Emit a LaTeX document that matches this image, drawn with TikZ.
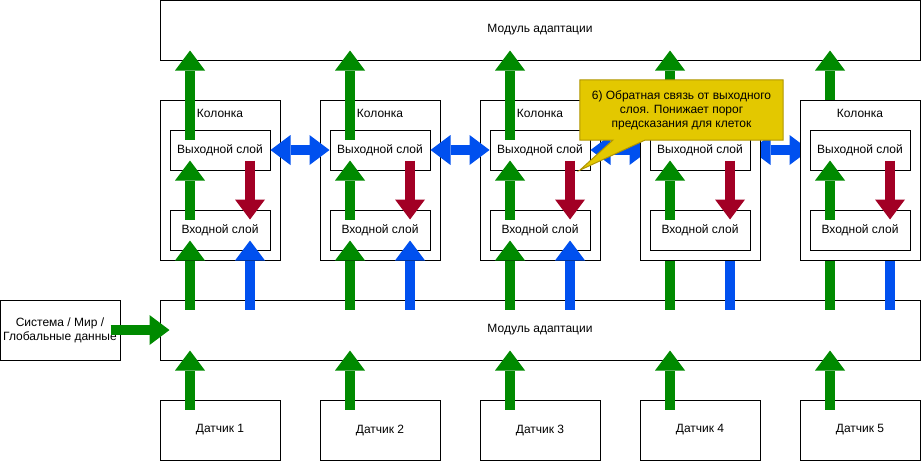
\documentclass[tikz,border=0pt]{standalone}
\usepackage{fontspec}
\setmainfont{Liberation Sans}
\usetikzlibrary{arrows.meta,calc}
\definecolor{gcol}{HTML}{008A00}
\definecolor{bcol}{HTML}{0050EF}
\definecolor{rcol}{HTML}{A20025}
\definecolor{ycol}{HTML}{E3C800}
\definecolor{ydraw}{HTML}{B09500}
\pgfdeclarelayer{bglayer}
\pgfdeclarelayer{frontlayer}
\pgfdeclarelayer{calloutlayer}
\pgfdeclarelayer{toplayer}
\pgfsetlayers{bglayer,main,frontlayer,calloutlayer,toplayer}
\tikzset{
  blk/.tip={Triangle[width=30pt,length=20pt,line width=0pt]},
  box/.style={draw=black, line width=1pt, fill=white, inner sep=0pt, align=center},
  wide/.style={box, minimum width=760pt, minimum height=60pt},
  colbox/.style={box, minimum width=120pt, minimum height=160pt},
  layerbox/.style={box, minimum width=100pt, minimum height=40pt},
  smallbox/.style={box, minimum width=120pt, minimum height=60pt},
  flow/.style={line width=10pt, line cap=butt},
  garrow/.style={flow, draw=gcol, -blk},
  barrow/.style={flow, draw=bcol, -blk},
  rarrow/.style={flow, draw=rcol, -blk},
  bdarrow/.style={flow, draw=bcol, blk-blk},
  coltitle/.style={inner sep=0pt},
}
\begin{document}
\begin{tikzpicture}[x=1pt,y=-1pt,font=\fontsize{12pt}{14pt}\selectfont]
\useasboundingbox (0,0) rectangle (921,461);

\begin{pgfonlayer}{bglayer}
\node[wide] (top) at (540,30) {Модуль адаптации};
\node[wide] (bot) at (540,330) {Модуль адаптации};
\node[smallbox] (sys) at (60,330) {Система / Мир /\\Глобальные данные};
\foreach \i in {1,...,5} {
  \node[smallbox] (s\i) at (60+160*\i,430) {Датчик \i};
}
\end{pgfonlayer}

% columns 1-3 (main layer)
\foreach \i in {1,2,3} {
  \node[colbox] (c\i) at (60+160*\i,180) {};
  \node[coltitle] at ([shift={(0,14)}]c\i.north) {Колонка};
  \node[layerbox] (o\i) at (60+160*\i,150) {Выходной слой};
  \node[layerbox] (n\i) at (60+160*\i,230) {Входной слой};
}

% columns 4-5 (front layer)
\begin{pgfonlayer}{frontlayer}
\foreach \i in {4,5} {
  \node[colbox] (c\i) at (60+160*\i,180) {};
  \node[coltitle] at ([shift={(0,14)}]c\i.north) {Колонка};
  \node[layerbox] (o\i) at (60+160*\i,150) {Выходной слой};
  \node[layerbox] (n\i) at (60+160*\i,230) {Входной слой};
}
\end{pgfonlayer}

% arrows between modules, columns and sensors
\foreach \i in {1,...,5} {
  \draw[garrow] ([shift={(-30,10)}]o\i.north) -- ($(o\i.north |- top.south)+(-30,-10)$);
  \draw[garrow] ($(n\i.south |- bot.north)+(-30,10)$) -- ([shift={(-30,-10)}]n\i.south);
  \draw[barrow] ($(n\i.south |- bot.north)+(30,10)$) -- ([shift={(30,-10)}]n\i.south);
  \draw[garrow] ([shift={(-30,10)}]s\i.north) -- ($(s\i.north |- bot.south)+(-30,-10)$);
}
\foreach \i in {1,2,3} {
  \draw[garrow] ([shift={(-30,10)}]n\i.north) -- ([shift={(-30,-10)}]o\i.south);
  \draw[rarrow] ([shift={(30,-10)}]o\i.south) -- ([shift={(30,10)}]n\i.north);
}
\foreach \i/\j in {1/2,2/3,3/4,4/5} {
  \draw[bdarrow] (o\i.east) -- (o\j.west);
}
\draw[garrow] ([shift={(-10,0)}]sys.east) -- ([shift={(10,0)}]bot.west);

\begin{pgfonlayer}{frontlayer}
\foreach \i in {4,5} {
  \draw[garrow] ([shift={(-30,10)}]n\i.north) -- ([shift={(-30,-10)}]o\i.south);
  \draw[rarrow] ([shift={(30,-10)}]o\i.south) -- ([shift={(30,10)}]n\i.north);
}
\end{pgfonlayer}

% callout
\begin{pgfonlayer}{toplayer}
\node[inner sep=0pt, minimum width=203pt, minimum height=60pt, align=center] (co) at (681.5,110)
  {6) Обратная связь от выходного\\слоя. Понижает порог\\предсказания для клеток};
\end{pgfonlayer}
\begin{pgfonlayer}{calloutlayer}
\draw[draw=ydraw, fill=ycol, line width=1pt, line join=miter]
  (co.north west) -- (co.north east) -- (co.south east)
  -- ([shift={(65,0)}]co.south west) -- ([shift={(0,30)}]co.south west)
  -- ([shift={(33,0)}]co.south west) -- (co.south west) -- cycle;
\end{pgfonlayer}
\end{tikzpicture}
\end{document}
